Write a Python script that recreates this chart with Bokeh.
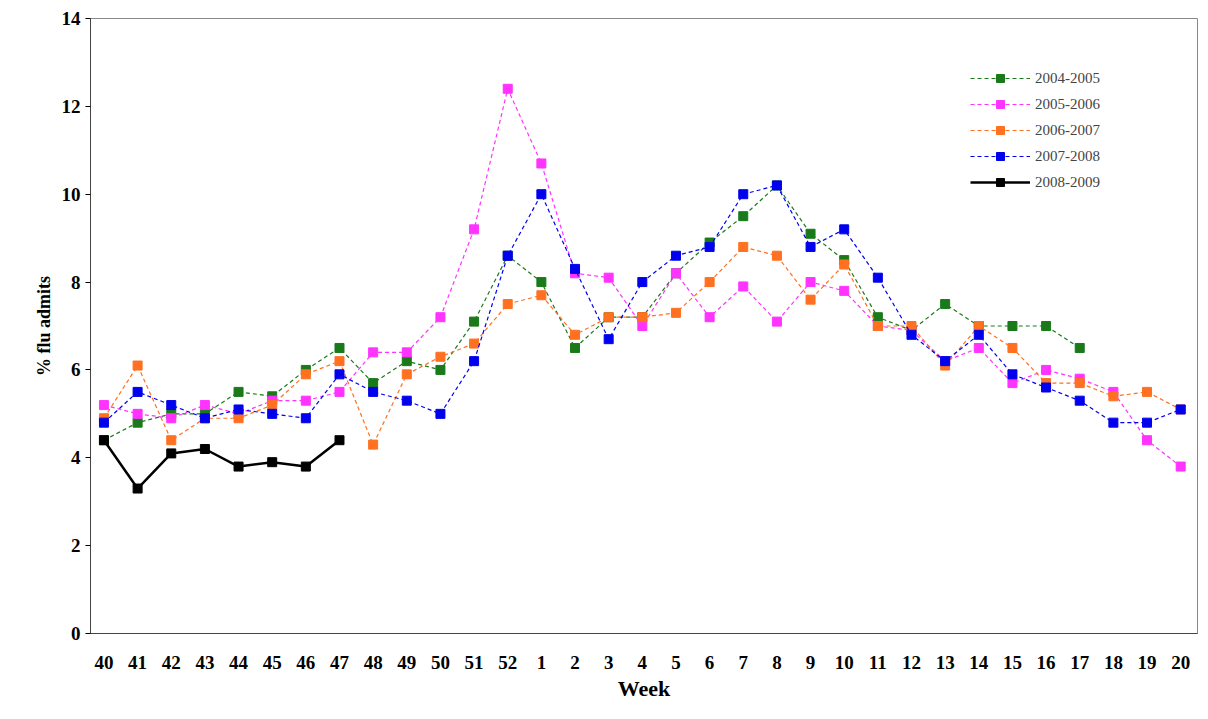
from bokeh.plotting import figure
from bokeh.models import Range1d, FixedTicker, Legend, LegendItem
from bokeh.embed import file_html
from bokeh.resources import INLINE

weeks = [str(w) for w in list(range(40, 53)) + list(range(1, 21))]

s0405 = [4.4, 4.8, 5.0, 5.0, 5.5, 5.4, 6.0, 6.5, 5.7, 6.2, 6.0, 7.1, 8.6, 8.0, 6.5, 7.2, 7.2,
         8.2, 8.9, 9.5, 10.2, 9.1, 8.5, 7.2, 6.9, 7.5, 7.0, 7.0, 7.0, 6.5]
s0506 = [5.2, 5.0, 4.9, 5.2, 5.0, 5.3, 5.3, 5.5, 6.4, 6.4, 7.2, 9.2, 12.4, 10.7, 8.2, 8.1, 7.0,
         8.2, 7.2, 7.9, 7.1, 8.0, 7.8, 7.0, 6.9, 6.2, 6.5, 5.7, 6.0, 5.8, 5.5, 4.4, 3.8]
s0607 = [4.9, 6.1, 4.4, 4.9, 4.9, 5.2, 5.9, 6.2, 4.3, 5.9, 6.3, 6.6, 7.5, 7.7, 6.8, 7.2, 7.2,
         7.3, 8.0, 8.8, 8.6, 7.6, 8.4, 7.0, 7.0, 6.1, 7.0, 6.5, 5.7, 5.7, 5.4, 5.5, 5.1]
s0708 = [4.8, 5.5, 5.2, 4.9, 5.1, 5.0, 4.9, 5.9, 5.5, 5.3, 5.0, 6.2, 8.6, 10.0, 8.3, 6.7, 8.0,
         8.6, 8.8, 10.0, 10.2, 8.8, 9.2, 8.1, 6.8, 6.2, 6.8, 5.9, 5.6, 5.3, 4.8, 4.8, 5.1]
s0809 = [4.4, 3.3, 4.1, 4.2, 3.8, 3.9, 3.8, 4.4]

series = [("2004-2005", s0405, "#1a7a1a", "4 3"),
          ("2005-2006", s0506, "#ff33ff", "4 3"),
          ("2006-2007", s0607, "#ff7020", "4 3"),
          ("2007-2008", s0708, "#0000ee", "4 3"),
          ("2008-2009", s0809, "black", "solid")]

FONT = "Liberation Serif"

p = figure(width=1200, height=703, output_backend="svg", toolbar_location=None,
           x_range=Range1d(-0.4, 32.5), y_range=Range1d(0, 14),
           min_border_left=90, min_border_right=3, min_border_top=18, min_border_bottom=70)
p.xgrid.visible = False
p.ygrid.visible = False
p.outline_line_color = "#888888"

p.xaxis.ticker = FixedTicker(ticks=list(range(len(weeks))))
p.xaxis.major_label_overrides = {i: w for i, w in enumerate(weeks)}
p.yaxis.ticker = FixedTicker(ticks=list(range(0, 15, 2)))
p.xaxis.major_tick_line_color = None
p.xaxis.minor_tick_line_color = None
p.yaxis.minor_tick_line_color = None
p.yaxis.major_tick_in = 0
p.yaxis.major_tick_out = 5
p.axis.axis_line_color = "#444444"
p.axis.major_label_text_font = FONT
p.axis.major_label_text_font_style = "bold"
p.axis.major_label_text_font_size = "19px"
p.axis.major_label_text_color = "black"
p.xaxis.major_label_standoff = 16
p.axis.axis_label_text_font = FONT
p.axis.axis_label_text_font_style = "bold"
p.axis.axis_label_text_color = "black"
p.xaxis.axis_label_text_font_size = "22px"
p.yaxis.axis_label_text_font_size = "18px"
p.xaxis.axis_label = "Week"
p.yaxis.axis_label = "% flu admits"
p.xaxis.axis_label_standoff = 4

items = []
for name, vals, col, dash in series:
    xs = list(range(len(vals)))
    lw = 2.5 if dash == "solid" else 1.2
    l = p.line(xs, vals, line_color=col, line_width=lw, line_dash=dash)
    m = p.scatter(xs, vals, marker="square", size=9, fill_color=col, line_color=col)
    items.append(LegendItem(label=name, renderers=[l, m]))

legend = Legend(items=items, location=(880, 441), border_line_color=None,
                label_text_font=FONT, label_text_font_size="15px",
                glyph_width=60, spacing=6, background_fill_alpha=0)
p.add_layout(legend, "center")

open("out.html", "w").write(file_html(p, INLINE))
